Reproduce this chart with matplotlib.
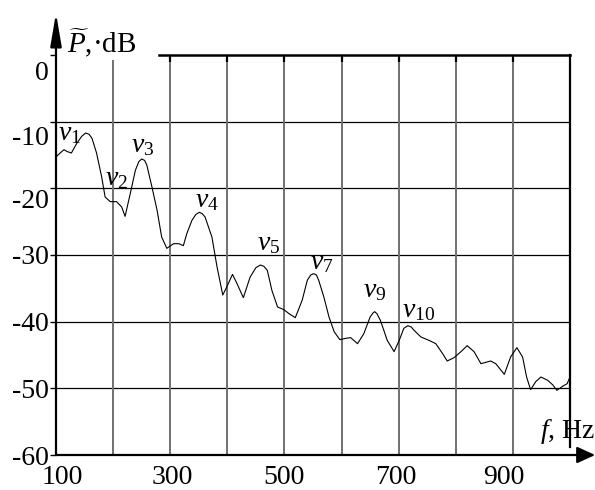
import matplotlib.pyplot as plt
import matplotlib.transforms as mtransforms

plt.rcParams['font.family'] = 'Liberation Serif'
plt.rcParams['mathtext.fontset'] = 'custom'
plt.rcParams['mathtext.rm'] = 'Liberation Serif'
plt.rcParams['mathtext.it'] = 'Liberation Serif:italic'

# Spectrum (Hz, dB)
freq = [100, 106, 114, 120, 127, 136, 145, 152, 158, 163, 171, 180, 186, 195,
        206, 215, 221, 230, 239, 245, 250, 255, 259, 268, 277, 285, 294, 306,
        315, 323, 329, 338, 345, 351, 356, 361, 373, 382, 392, 399, 409, 417,
        428, 440, 450, 458, 464, 470, 478, 488, 499, 508, 519, 531, 540, 546,
        551, 556, 560, 569, 578, 587, 597, 607, 616, 628, 639, 650, 655, 658,
        662, 668, 680, 692, 701, 709, 716, 722, 727, 739, 753, 765, 777, 785,
        797, 809, 820, 832, 844, 861, 870, 885, 896, 907, 917, 924, 931, 940,
        949, 961, 970, 977, 987, 995, 1000]
level = [-15.3, -14.8, -14.2, -14.5, -14.7, -13.3, -12.2, -11.7, -11.9, -12.5,
         -14.7, -18.3, -21.3, -22.0, -22.0, -22.8, -24.2, -20.8, -17.3, -16.0,
         -15.6, -15.8, -16.5, -19.8, -23.3, -27.3, -29.0, -28.3, -28.3, -28.6,
         -26.8, -24.8, -23.9, -23.6, -23.8, -24.3, -27.3, -31.8, -36.0, -34.8,
         -32.9, -34.3, -36.4, -33.3, -31.9, -31.5, -31.7, -32.3, -35.3, -37.8,
         -38.2, -38.8, -39.4, -36.8, -33.8, -33.0, -32.8, -33.0, -33.8, -36.3,
         -39.3, -41.5, -42.7, -42.5, -42.4, -43.3, -41.8, -39.3, -38.7, -38.5,
         -38.8, -39.8, -42.8, -44.5, -42.8, -41.0, -40.6, -40.8, -41.3, -42.3,
         -42.8, -43.3, -44.8, -45.9, -45.4, -44.5, -43.6, -44.5, -46.3, -45.9,
         -46.3, -47.9, -45.3, -43.9, -45.3, -48.3, -50.2, -49.0, -48.3, -48.8,
         -49.5, -50.3, -49.7, -49.3, -48.3]

# Peak labels
peak_names = ['$v_1$', '$v_2$', '$v_3$', '$v_4$', '$v_5$', '$v_7$', '$v_9$', '$v_{10}$']
peak_f = [103, 186, 232, 343, 452, 545, 638, 705]
peak_db = [-12.8, -19.5, -14.5, -22.8, -29.3, -32.1, -36.3, -39.3]

xgrid = [200, 300, 400, 500, 600, 700, 800, 900]
xticks = [100, 300, 500, 700, 900]
xtick_shift = [6, 2, 0, -3, -9]      # px, labels are not centred in the original
yticks = [0, -10, -20, -30, -40, -50, -60]
ytick_shift = [-15, -14, -10, 0, 0, 0, 0]

fig = plt.figure(figsize=(5.95, 4.9), dpi=100)
ax = fig.add_axes([56 / 595, 35 / 490, 514 / 595, 400 / 490])
ax.set_xlim(100, 1000)
ax.set_ylim(-60, 0)
for s in ax.spines.values():
    s.set_visible(False)

# grid
for y in yticks[1:-1]:
    ax.axhline(y, color='black', lw=0.9, zorder=1)
for x in xgrid:
    top = -0.7 if x == 200 else 0
    ax.vlines(x, -60, top, color='#707070', lw=1.4, zorder=1)
    if x > 200:
        ax.vlines(x, -1.1, 0, color='black', lw=1.6, zorder=2)

# frame with arrows
tr = ax.transAxes
ax.plot([0.2, 1], [1, 1], color='black', lw=1.8, transform=tr, clip_on=False)
ax.plot([1, 1], [0.02, 1], color='black', lw=1.6, transform=tr, clip_on=False)
ax.annotate('', xy=(0, 1.105), xytext=(0, 0), xycoords=tr, textcoords=tr,
            arrowprops=dict(arrowstyle='-|>,head_length=1.0,head_width=0.17',
                            color='black', lw=1.6, mutation_scale=20,
                            shrinkA=0, shrinkB=0))
ax.annotate('', xy=(1.049, 0), xytext=(0, 0), xycoords=tr, textcoords=tr,
            arrowprops=dict(arrowstyle='-|>,head_length=0.55,head_width=0.25',
                            color='black', lw=1.6, mutation_scale=20,
                            shrinkA=0, shrinkB=0))

ax.plot(freq, level, color='black', lw=0.8, zorder=3)

for name, f, p in zip(peak_names, peak_f, peak_db):
    ax.text(f, p, name, fontsize=20, ha='left', va='baseline', zorder=4)

# ticks
ax.set_xticks(xticks)
ax.set_xticklabels([str(x) for x in xticks], fontsize=20)
ax.tick_params(axis='x', length=0, pad=7)
ax.set_yticks(yticks)
ax.set_yticklabels([str(y) for y in yticks], fontsize=20)
ax.tick_params(axis='y', length=4, width=1, pad=1)

for lab, dx in zip(ax.get_xticklabels(), xtick_shift):
    lab.set_transform(lab.get_transform() + mtransforms.Affine2D().translate(dx, 0))
for lab, dy in zip(ax.get_yticklabels(), ytick_shift):
    lab.set_transform(lab.get_transform() + mtransforms.Affine2D().translate(0, dy))

# axis titles
ax.text(0.021, 1.0075, r'$\widetilde{P}$,·dB', fontsize=21, transform=tr,
        ha='left', va='baseline')
ax.text(1.049, 0.0425, r'$f$, Hz', fontsize=20, transform=tr,
        ha='right', va='baseline')

fig.savefig('out.png', dpi=100)
